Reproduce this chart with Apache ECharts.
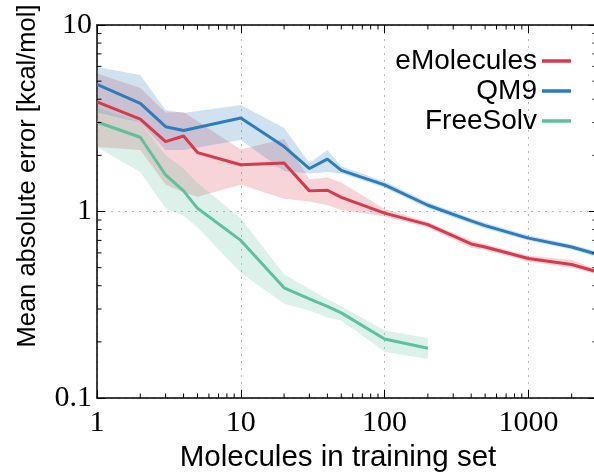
<!DOCTYPE html>
<html>
<head>
<meta charset="utf-8">
<script src="https://cdn.jsdelivr.net/npm/echarts@6/dist/echarts.min.js"></script>
<style>html,body{margin:0;padding:0;background:#fff}#c{width:594px;height:475px}</style>
</head>
<body>
<div id="c"></div>
<script>
// ---- data ----
const emolX    = [1, 2, 3, 4, 5, 10, 20, 30, 40, 50, 100, 200, 400, 500, 1000, 2000, 3000];
const emolMean = [3.87, 3.13, 2.37, 2.54, 2.07, 1.78, 1.82, 1.29, 1.30, 1.19, 0.98, 0.85, 0.67, 0.645, 0.56, 0.52, 0.475];
const emolLo   = [2.22, 2.14, 1.39, 1.27, 1.20, 1.39, 1.17, 1.13, 1.08, 1.02, 0.94, 0.82, 0.64, 0.62, 0.54, 0.50, 0.46];
const emolHi   = [5.5, 4.6, 3.4, 3.42, 3.05, 2.15, 2.45, 1.49, 1.52, 1.43, 1.03, 0.88, 0.70, 0.67, 0.58, 0.55, 0.49];

const qm9X    = [1, 2, 3, 4, 10, 20, 30, 40, 50, 100, 200, 400, 500, 1000, 2000, 3000];
const qm9Mean = [4.8, 3.8, 2.85, 2.72, 3.17, 2.23, 1.70, 1.91, 1.66, 1.39, 1.08, 0.89, 0.84, 0.72, 0.645, 0.59];
const qm9Lo   = [3.4, 3.0, 2.14, 2.14, 2.42, 1.65, 1.60, 1.63, 1.60, 1.34, 1.04, 0.86, 0.81, 0.70, 0.625, 0.57];
const qm9Hi   = [5.96, 5.4, 3.5, 3.37, 3.73, 2.8, 1.82, 2.14, 1.75, 1.45, 1.12, 0.92, 0.87, 0.745, 0.665, 0.61];

const fsX    = [1, 2, 3, 4, 5, 10, 20, 30, 40, 50, 100, 200];
const fsMean = [3.02, 2.5, 1.57, 1.29, 1.04, 0.70, 0.39, 0.34, 0.31, 0.286, 0.207, 0.185];
const fsLo   = [2.22, 1.63, 1.04, 0.95, 0.82, 0.47, 0.32, 0.295, 0.27, 0.26, 0.177, 0.162];
const fsHi   = [3.6, 3.0, 2.0, 1.7, 1.42, 0.92, 0.46, 0.385, 0.34, 0.31, 0.23, 0.21];

const seriesNames = ['eMolecules', 'QM9', 'FreeSolv'];
const xTitle = 'Molecules in training set';
const yTitle = 'Mean absolute error [kcal/mol]';
const xTickLabels = {1: '1', 10: '10', 100: '100', 1000: '1000'};
const yTickLabels = {0.1: '0.1', 1: '1', 10: '10'};
const xMinorTicks = [2,3,4,5,6,7,8,9,20,30,40,50,60,70,80,90,200,300,400,500,600,700,800,900,2000];
const yMinorTicks = [0.2,0.3,0.4,0.5,0.6,0.7,0.8,0.9,2,3,4,5,6,7,8,9];

const X_MIN = 1, X_MAX = 3000, Y_MIN = 0.1, Y_MAX = 10;
const colors = ['#d63a4c', '#2b7dbb', '#5cc19c'];
const SANS = 'Liberation Sans';
const SERIF = 'Liberation Serif';

function labelOf(map, v) {
  for (const k in map) { if (Math.abs(Number(k) - v) / Number(k) < 1e-6) return map[k]; }
  return '';
}

function bandSeries(name, xs, lo, hi, color) {
  return {
    type: 'custom', name: name, xAxisIndex: 0, yAxisIndex: 0, z: 1, silent: true,
    data: xs.map((x, i) => [x, lo[i], hi[i]]),
    encode: {x: 0, y: [1, 2]},
    renderItem: function (params, api) {
      if (params.dataIndex !== 0) return null;
      const pts = [];
      for (let i = 0; i < xs.length; i++) pts.push(api.coord([xs[i], hi[i]]));
      for (let i = xs.length - 1; i >= 0; i--) pts.push(api.coord([xs[i], lo[i]]));
      return {type: 'polygon', shape: {points: pts}, style: {fill: color, opacity: 0.22}};
    }
  };
}

function lineSeries(name, xs, ys, color) {
  return {
    type: 'line', name: name, xAxisIndex: 0, yAxisIndex: 0, z: 5,
    data: xs.map((x, i) => [x, ys[i]]),
    showSymbol: false, symbol: 'none',
    lineStyle: {color: color, width: 3}, itemStyle: {color: color}
  };
}

const minorX = {
  type: 'custom', name: 'minorX', z: 6, silent: true,
  data: xMinorTicks.map(v => [v, Y_MIN]),
  renderItem: function (params, api) {
    const v = xMinorTicks[params.dataIndex];
    const b = api.coord([v, Y_MIN]);
    const t = api.coord([v, Y_MAX]);
    return {type: 'group', children: [
      {type: 'line', shape: {x1: b[0], y1: b[1], x2: b[0], y2: b[1] - 4.5}, style: {stroke: '#000', lineWidth: 1}},
      {type: 'line', shape: {x1: t[0], y1: t[1], x2: t[0], y2: t[1] + 4.5}, style: {stroke: '#000', lineWidth: 1}}
    ]};
  }
};
const minorY = {
  type: 'custom', name: 'minorY', z: 6, silent: true,
  data: yMinorTicks.map(v => [X_MIN, v]),
  renderItem: function (params, api) {
    const v = yMinorTicks[params.dataIndex];
    const l = api.coord([X_MIN, v]);
    const r = api.coord([X_MAX, v]);
    return {type: 'group', children: [
      {type: 'line', shape: {x1: l[0], y1: l[1], x2: l[0] + 4.5, y2: l[1]}, style: {stroke: '#000', lineWidth: 1}},
      {type: 'line', shape: {x1: r[0], y1: r[1], x2: r[0] - 4.5, y2: r[1]}, style: {stroke: '#000', lineWidth: 1}}
    ]};
  }
};

const axisLineStyle = {show: true, lineStyle: {color: '#000', width: 1.5}};
const majorTick = {show: true, inside: true, length: 8, lineStyle: {color: '#000', width: 1}};
const gridLine = {show: true, lineStyle: {color: '#b8b8b8', width: 1, type: [2, 5]}};

const legendRows = [46, 76, 106];

const option = {
  animation: false,
  backgroundColor: '#fff',
  grid: {left: 97, right: -3, top: 25, bottom: 77, containLabel: false, outerBoundsMode: 'none'},
  graphic: [{
    type: 'text', x: 28, y: 176, rotation: Math.PI / 2, silent: true,
    style: {text: yTitle, fontFamily: SANS, fontSize: 25.5, fill: '#000', align: 'center', verticalAlign: 'middle'}
  }],
  legend: seriesNames.map((n, i) => ({
    data: [n], orient: 'vertical', align: 'right', right: 23, top: legendRows[i], padding: 0,
    icon: 'rect', itemWidth: 29, itemHeight: 3.5, selectedMode: false,
    textStyle: {fontFamily: SANS, fontSize: 28, color: '#000', lineHeight: 30}
  })),
  xAxis: [
    {
      type: 'log', logBase: 10, min: X_MIN, max: X_MAX, position: 'bottom',
      name: xTitle, nameLocation: 'middle', nameGap: 42,
      nameTextStyle: {fontFamily: SANS, fontSize: 29.5, color: '#000', padding: [0, 18, 0, 0]},
      axisLine: axisLineStyle, axisTick: majorTick, splitLine: gridLine,
      minorTick: {show: false}, minorSplitLine: {show: false},
      axisLabel: {show: true, margin: 10, fontFamily: SERIF, fontSize: 30, color: '#000',
        showMaxLabel: false, formatter: v => labelOf(xTickLabels, v)}
    },
    {
      type: 'log', logBase: 10, min: X_MIN, max: X_MAX, position: 'top', gridIndex: 0,
      axisLine: axisLineStyle, axisTick: majorTick, splitLine: {show: false},
      axisLabel: {show: false}
    }
  ],
  yAxis: [
    {
      type: 'log', logBase: 10, min: Y_MIN, max: Y_MAX, position: 'left',
      axisLine: axisLineStyle, axisTick: majorTick, splitLine: gridLine,
      minorTick: {show: false}, minorSplitLine: {show: false},
      axisLabel: {show: true, margin: 5, fontFamily: SERIF, fontSize: 30, color: '#000',
        formatter: v => labelOf(yTickLabels, v)}
    },
    {
      type: 'log', logBase: 10, min: Y_MIN, max: Y_MAX, position: 'right', gridIndex: 0,
      axisLine: axisLineStyle, axisTick: majorTick, splitLine: {show: false},
      axisLabel: {show: false}
    }
  ],
  series: [
    bandSeries('eMolecules band', emolX, emolLo, emolHi, colors[0]),
    bandSeries('QM9 band', qm9X, qm9Lo, qm9Hi, colors[1]),
    bandSeries('FreeSolv band', fsX, fsLo, fsHi, colors[2]),
    lineSeries('eMolecules', emolX, emolMean, colors[0]),
    lineSeries('QM9', qm9X, qm9Mean, colors[1]),
    lineSeries('FreeSolv', fsX, fsMean, colors[2]),
    minorX, minorY
  ]
};

const chart = echarts.init(document.getElementById('c'), null, {renderer: 'canvas'});
chart.setOption(option);
</script>
</body>
</html>
